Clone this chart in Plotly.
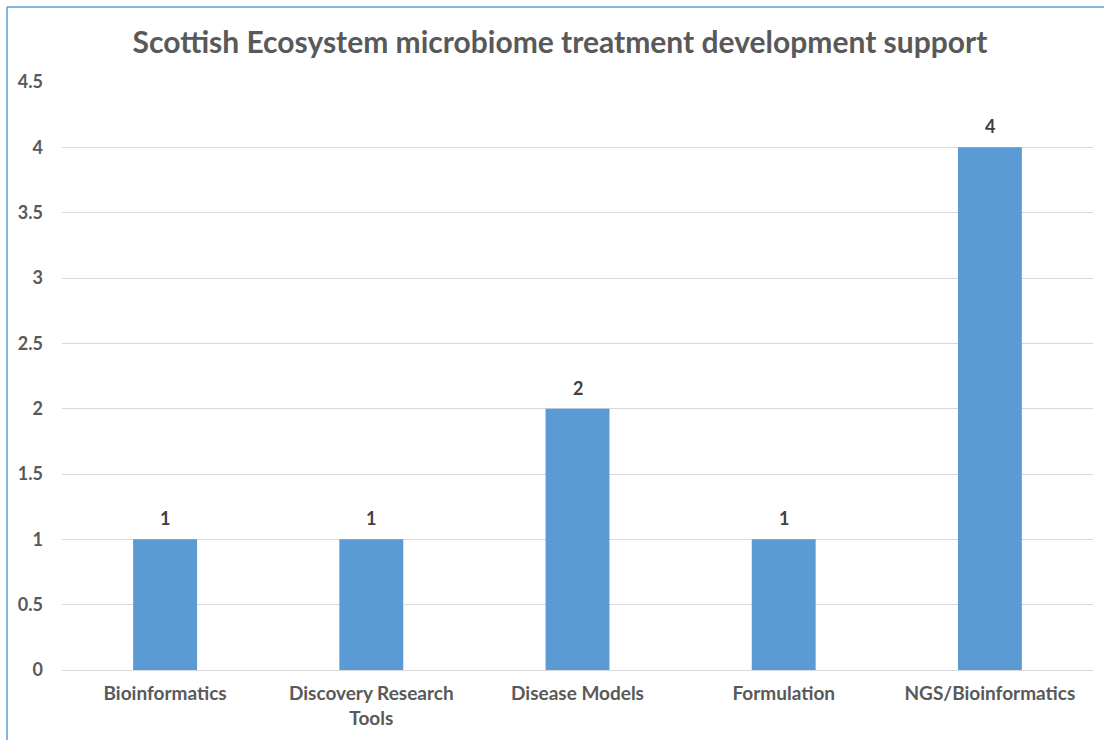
import plotly.graph_objects as go

categories = ["Bioinformatics", "Discovery Research<br>Tools", "Disease Models", "Formulation", "NGS/Bioinformatics"]
values = [1, 1, 2, 1, 4]
tick_vals = [0, 0.5, 1, 1.5, 2, 2.5, 3, 3.5, 4, 4.5]
tick_text = ["0", "0.5", "1", "1.5", "2", "2.5", "3", "3.5", "4", "4.5"]

W, H = 1104, 740
L, R, T, B = 62, 11, 82, 70

fig = go.Figure()
fig.add_trace(go.Bar(
    x=categories, y=values,
    marker=dict(color="#5b9bd5", line=dict(width=0)),
    width=0.31,
    cliponaxis=False,
))

for c, v in zip(categories, values):
    fig.add_annotation(x=c, y=v, text=f"<b>{v}</b>", showarrow=False,
                       yanchor="bottom", yshift=8,
                       font=dict(family="Lato", size=18, color="#404040"))

pw = W - L - R
ph = H - T - B
fig.update_layout(
    width=W, height=H,
    margin=dict(l=L, r=R, t=T, b=B, autoexpand=False),
    paper_bgcolor="white", plot_bgcolor="white",
    showlegend=False,
    title=dict(text="<b>Scottish Ecosystem microbiome treatment development support</b>",
               x=560 / W, xanchor="center", xref="container",
               y=1 - 42 / H, yanchor="middle", yref="container",
               font=dict(family="Lato", size=30, color="#595959")),
    xaxis=dict(showgrid=False, showline=False, ticks="",
               tickfont=dict(family="Lato", size=19, color="#595959", weight="bold"),
               ticklabelstandoff=10),
    yaxis=dict(range=[0, 4.5], tickvals=tick_vals, ticktext=tick_text,
               showgrid=True, gridcolor="#d9d9d9", gridwidth=1,
               zeroline=True, zerolinecolor="#d9d9d9", zerolinewidth=1,
               showline=False, ticks="",
               tickfont=dict(family="Lato", size=18, color="#595959", weight="bold"),
               ticklabelstandoff=18),
    bargap=0.69,
    shapes=[
        dict(type="line", xref="paper", yref="paper",
             x0=(7 - L) / pw, x1=(7 - L) / pw, y0=(H - B - 7) / ph, y1=-(B + 5) / ph,
             line=dict(color="#5b9bd5", width=1.5)),
        dict(type="line", xref="paper", yref="paper",
             x0=(7 - L) / pw, x1=(W + 5 - L) / pw, y0=(H - B - 7) / ph, y1=(H - B - 7) / ph,
             line=dict(color="#5b9bd5", width=1.5)),
    ],
)

fig.write_html("out.html")
